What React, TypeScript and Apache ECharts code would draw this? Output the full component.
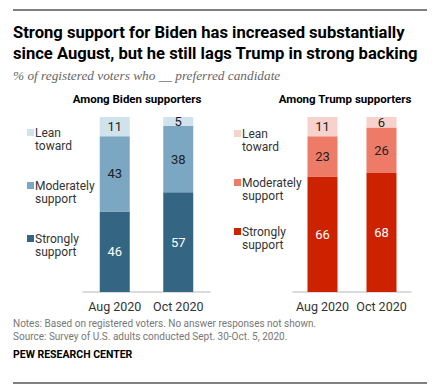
import React, { useEffect, useRef } from "react";
import * as echarts from "echarts";

const periods = ["Aug 2020", "Oct 2020"];
const bidenStrongly = [46, 57];
const bidenModerately = [43, 38];
const bidenLean = [11, 5];
const trumpStrongly = [66, 68];
const trumpModerately = [23, 26];
const trumpLean = [11, 6];
const legendLabels = ["Lean\ntoward", "Moderately\nsupport", "Strongly\nsupport"];

const FONT = "Roboto, 'Liberation Sans', Arial, sans-serif";

export default function App() {
  const ref = useRef<HTMLDivElement>(null);
  useEffect(() => {
    document.body.style.margin = "0";
    const chart = echarts.init(ref.current!, null, { renderer: "svg" });
    const bColors = ["#346583", "#7BA7C3", "#D0E2EC"];
    const tColors = ["#CC2200", "#EE7B67", "#F9D1CC"];
    const mkSeries = (name: string, data: number[], stack: string, idx: number, color: string, labelColor: string) => ({
      type: "bar",
      name,
      data,
      stack,
      xAxisIndex: idx,
      yAxisIndex: idx,
      barWidth: 30,
      itemStyle: { color },
      label: {
        show: true,
        position: "inside",
        color: labelColor,
        fontSize: 13,
        fontFamily: FONT,
      },
    });
    const bidenLegendY = [133, 186, 239];
    const trumpLegendY = [134, 183, 232];
    const legendGraphics: any[] = [];
    const addLegend = (x: number, ys: number[], colors: string[]) => {
      legendLabels.forEach((t, i) => {
        const colorIdx = 2 - i;
        legendGraphics.push({
          type: "rect",
          shape: { x: x, y: ys[i] - 4, width: 7, height: 7 },
          style: { fill: colors[colorIdx] },
        });
        legendGraphics.push({
          type: "text",
          x: x + 8,
          y: ys[i] - 6.5,
          style: {
            text: t,
            fill: "#333",
            font: `12px ${FONT}`,
            lineHeight: 13,
            textVerticalAlign: "top",
          },
        });
      });
    };
    addLegend(27, bidenLegendY, bColors);
    addLegend(234, trumpLegendY, tColors);

    chart.setOption({
      animation: false,
      grid: [
        { left: 83, right: 230, top: 117, bottom: 97 },
        { left: 293, right: 29, top: 117, bottom: 97 },
      ],
      xAxis: [0, 1].map((i) => ({
        type: "category",
        gridIndex: i,
        data: periods,
        axisLine: { lineStyle: { color: "#d0d0d0", width: 1.5 } },
        axisTick: { show: false },
        axisLabel: { color: "#333", fontSize: 12.5, fontFamily: FONT, margin: 8, interval: 0 },
      })),
      yAxis: [0, 1].map((i) => ({
        type: "value",
        gridIndex: i,
        min: 0,
        max: 100,
        show: false,
      })),
      series: [
        mkSeries("Strongly support", bidenStrongly, "b", 0, bColors[0], "#fff"),
        mkSeries("Moderately support", bidenModerately, "b", 0, bColors[1], "#222"),
        mkSeries("Lean toward", bidenLean, "b", 0, bColors[2], "#222"),
        mkSeries("Strongly support", trumpStrongly, "t", 1, tColors[0], "#fff"),
        mkSeries("Moderately support", trumpModerately, "t", 1, tColors[1], "#222"),
        mkSeries("Lean toward", trumpLean, "t", 1, tColors[2], "#222"),
      ],
      graphic: [
        { type: "line", shape: { x1: 13, y1: 10, x2: 427, y2: 10 }, style: { stroke: "#000", lineWidth: 1 } },
        {
          type: "text", x: 13, y: 32,
          style: { text: "Strong support for Biden has increased substantially", font: `bold 16.6px ${FONT}`, fill: "#000", textVerticalAlign: "middle" },
        },
        {
          type: "text", x: 13, y: 53,
          style: { text: "since August, but he still lags Trump in strong backing", font: `bold 16.6px ${FONT}`, fill: "#000", textVerticalAlign: "middle" },
        },
        {
          type: "text", x: 13, y: 75,
          style: { text: "% of registered voters who __ preferred candidate", font: `italic 13.3px 'Liberation Serif', 'DejaVu Serif', serif`, fill: "#666", textVerticalAlign: "middle" },
        },
        {
          type: "text", x: 137, y: 99,
          style: { text: "Among Biden supporters", font: `bold 11.5px ${FONT}`, fill: "#000", textAlign: "center", textVerticalAlign: "middle" },
        },
        {
          type: "text", x: 345, y: 99,
          style: { text: "Among Trump supporters", font: `bold 11.5px ${FONT}`, fill: "#000", textAlign: "center", textVerticalAlign: "middle" },
        },
        ...legendGraphics,
        {
          type: "text", x: 13, y: 323,
          style: { text: "Notes: Based on registered voters. No answer responses not shown.", font: `10px ${FONT}`, fill: "#777", textVerticalAlign: "middle" },
        },
        {
          type: "text", x: 13, y: 336,
          style: { text: "Source: Survey of U.S. adults conducted Sept. 30-Oct. 5, 2020.", font: `10px ${FONT}`, fill: "#777", textVerticalAlign: "middle" },
        },
        {
          type: "text", x: 13, y: 354,
          style: { text: "PEW RESEARCH CENTER", font: `bold 10.5px ${FONT}`, fill: "#000", textVerticalAlign: "middle" },
        },
        { type: "line", shape: { x1: 13, y1: 383, x2: 427, y2: 383 }, style: { stroke: "#000", lineWidth: 1 } },
      ],
    });
    return () => chart.dispose();
  }, []);
  return <div ref={ref} style={{ width: 440, height: 389 }} />;
}
